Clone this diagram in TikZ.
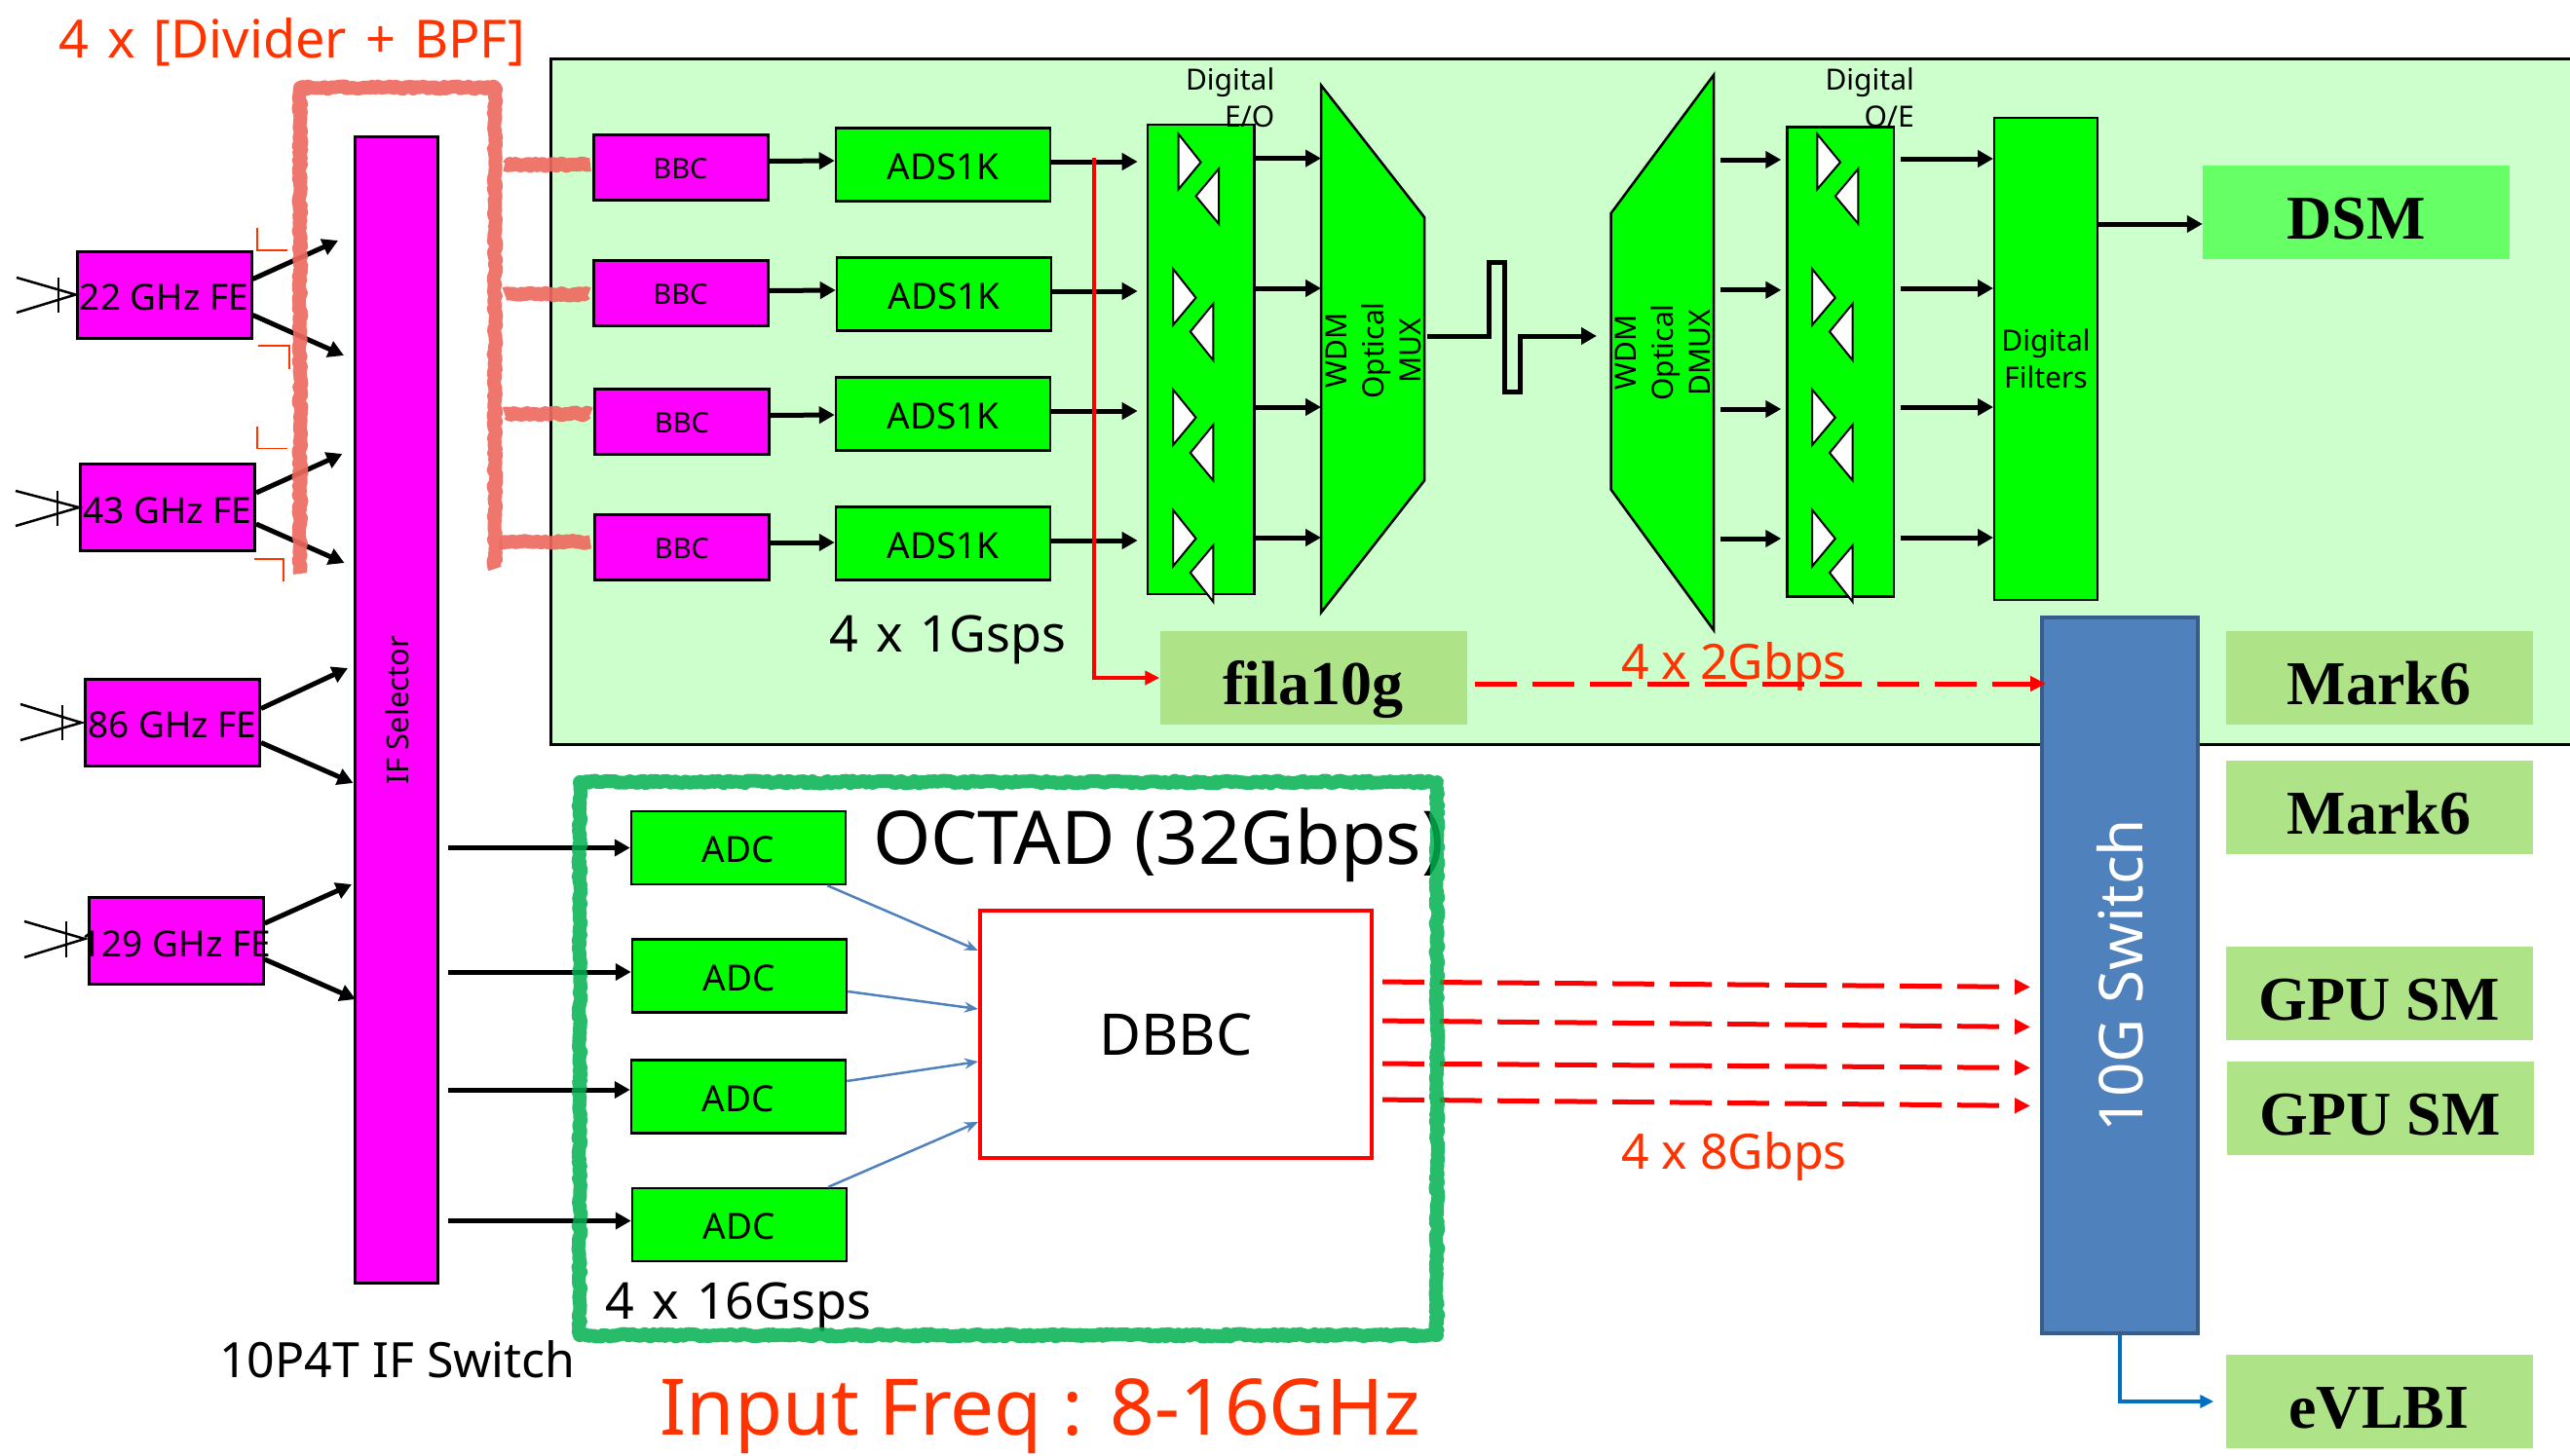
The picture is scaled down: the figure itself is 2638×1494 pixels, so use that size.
\documentclass[tikz,border=0pt]{standalone}
\usepackage{fontspec}
\setmainfont{Noto Sans}
\newfontfamily\boxserif{Liberation Serif}
\usetikzlibrary{arrows.meta,decorations.pathmorphing}
\definecolor{panelgreen}{HTML}{CCFFCC}
\definecolor{boxgreen}{HTML}{00FF00}
\definecolor{paleleaf}{HTML}{AEE387}
\definecolor{dsmgreen}{HTML}{66FF66}
\definecolor{magentabox}{HTML}{FF00FF}
\definecolor{switchblue}{HTML}{4F81BD}
\definecolor{switchedge}{HTML}{385D8A}
\definecolor{linkblue}{HTML}{0070C0}
\definecolor{notered}{HTML}{FF3300}
\definecolor{bpfpink}{HTML}{EE6A5F}
\definecolor{octadgreen}{HTML}{00B050}
\tikzset{
    magbox/.style={draw,line width=3pt,fill=magentabox,inner sep=0pt},
    febox/.style={magbox,font=\fontsize{37}{44}\selectfont,text height=32pt,text depth=0pt,minimum width=179pt,minimum height=89pt},
    bbcbox/.style={magbox,font=\fontsize{29}{34}\selectfont,text height=23pt,text depth=0pt,minimum width=179pt,minimum height=67pt},
    grnbox/.style={draw,line width=2.5pt,fill=boxgreen,inner sep=0pt},
    convbox/.style={grnbox,font=\fontsize{37}{44}\selectfont,text height=30pt,text depth=0pt,minimum width=220pt,minimum height=75pt},
    leafbox/.style={fill=paleleaf,inner sep=0pt,font=\fontsize{64}{70}\selectfont\boxserif\bfseries,text height=55pt,text depth=0pt,minimum width=315pt,minimum height=96pt},
    smalltxt/.style={inner sep=0pt,font=\fontsize{30}{38}\selectfont},
    sigarrow/.style={line width=5pt,-{Triangle[length=16pt,width=17pt]}},
    thinarrow/.style={line width=2.5pt,draw=switchblue,-{Stealth[length=14pt,width=11pt]}},
    reddash/.style={line width=5pt,draw=red,dash pattern=on 43pt off 16pt,-{Triangle[length=16pt,width=15pt]}},
    redtxt/.style={inner sep=0pt,text=notered},
    feedline/.style={line width=2.5pt},
    ampwedge/.style={draw,line width=2pt,fill=white,line join=miter},
    cornermark/.style={draw=notered,line width=1.5pt},
    rough/.style={line width=14pt,line join=round,decorate,decoration={random steps,segment length=3pt,amplitude=1.5pt}}
}
\begin{document}
\begin{tikzpicture}[x=1pt,y=-1pt]
    \useasboundingbox (0,0) rectangle (2638,1494);
    \pgfmathsetseed{7}
    % panel
    \draw[line width=3pt,fill=panelgreen] (565,60) rectangle (2650,764);

    \node[febox] (fe22) at (168.5,302.5) {\makebox[0pt]{22 GHz FE}};
    \node[febox] (fe43) at (172,521) {\makebox[0pt]{43 GHz FE}};
    \node[febox] (fe86) at (177,741.5) {\makebox[0pt]{86 GHz FE}};
    \node[febox] (fe129) at (180.7,966) {\makebox[0pt]{129 GHz FE}};
    \node[magbox,minimum width=85pt,minimum height=1177pt] (ifsel) at (407,728.5) {};
    \node[rotate=90,inner sep=0pt,font=\fontsize{31}{36}\selectfont] (ifseltxt) at (408,729) {IF Selector};

    \node[bbcbox] (bbc1) at (698.5,171.5) {BBC};
    \node[bbcbox] (bbc2) at (698.5,300.5) {BBC};
    \node[bbcbox] (bbc3) at (700,432.5) {BBC};
    \node[bbcbox] (bbc4) at (700,562) {BBC};
    \node[convbox] (ads1) at (968,169) {ADS1K};
    \node[convbox] (ads2) at (969,302) {ADS1K};
    \node[convbox] (ads3) at (968,425) {ADS1K};
    \node[convbox] (ads4) at (968,558) {ADS1K};

    \node[grnbox,minimum width=109.5pt,minimum height=482pt] (eo) at (1232.7,369) {};
    \node[grnbox,minimum width=109.5pt,minimum height=482pt] (oe) at (1889.3,371.5) {};
    \node[grnbox,smalltxt,align=center,minimum width=106pt,minimum height=495pt] (filt) at (2100,368.5) {Digital\\Filters};
    \node[smalltxt,align=right,anchor=north east] (eotxt) at (1308.5,69) {Digital\\E/O};
    \node[smalltxt,align=right,anchor=north east] (oetxt) at (1965,69) {Digital\\O/E};

    % wedges
    \draw[ampwedge] (1209.7,137.7) -- (1232.6,166.6) -- (1209.7,194.3) -- cycle;
    \draw[ampwedge] (1251,173.3) -- (1227.5,201.4) -- (1251,229.8) -- cycle;
    \draw[ampwedge] (1204,276) -- (1227.5,305.7) -- (1204,333.8) -- cycle;
    \draw[ampwedge] (1245.4,311.7) -- (1221.8,340.5) -- (1245.4,370) -- cycle;
    \draw[ampwedge] (1204,399.8) -- (1227.5,428.7) -- (1204,457) -- cycle;
    \draw[ampwedge] (1245.4,436) -- (1221.8,465) -- (1245.4,493.5) -- cycle;
    \draw[ampwedge] (1204,523.5) -- (1227.5,553) -- (1204,581.6) -- cycle;
    \draw[ampwedge] (1245.4,560) -- (1221.8,588) -- (1245.4,618) -- cycle;
    \draw[ampwedge] (1865.3,137.7) -- (1889,166.6) -- (1865.3,194.3) -- cycle;
    \draw[ampwedge] (1907.4,173.3) -- (1883.8,201.4) -- (1907.4,229.8) -- cycle;
    \draw[ampwedge] (1860,276) -- (1883.8,305.7) -- (1860,333.8) -- cycle;
    \draw[ampwedge] (1901.7,311.7) -- (1878,340.5) -- (1901.7,370) -- cycle;
    \draw[ampwedge] (1860,399.8) -- (1883.8,428.7) -- (1860,457) -- cycle;
    \draw[ampwedge] (1901.7,436) -- (1878,465) -- (1901.7,493.5) -- cycle;
    \draw[ampwedge] (1860,523.5) -- (1883.8,553) -- (1860,581.6) -- cycle;
    \draw[ampwedge] (1901.7,560) -- (1878,588) -- (1901.7,618) -- cycle;

    % mux and demux
    \draw[line width=2.5pt,fill=boxgreen] (1356,87.5) -- (1462,223) -- (1462,493.5) -- (1356,629) -- cycle;
    \draw[line width=2.5pt,fill=boxgreen] (1759,77) -- (1653.6,219) -- (1653.6,502.6) -- (1759,647) -- cycle;
    \node[smalltxt,rotate=90,align=center] (muxtxt) at (1410,360) {WDM\\Optical\\MUX};
    \node[smalltxt,rotate=90,align=center] (dmuxtxt) at (1707,362) {WDM\\Optical\\DMUX};

    \node[leafbox,fill=dsmgreen] (dsm) at (2418.5,218) {DSM};
    \node[leafbox] (fila) at (1348,696) {fila10g};
    \node[leafbox] (mark1) at (2442,696) {Mark6};
    \node[leafbox] (mark2) at (2442,829) {Mark6};
    \node[leafbox] (gpu1) at (2442,1020) {GPU SM};
    \node[leafbox] (gpu2) at (2443,1138) {GPU SM};
    \node[leafbox] (evlbi) at (2442,1439) {eVLBI};
    \node[draw=switchedge,line width=4pt,fill=switchblue,text=white,rotate=90,inner sep=0pt,font=\fontsize{62}{70}\selectfont,minimum width=735pt,minimum height=160pt] (switch) at (2176,1001.5) {10G Switch};

    \node[convbox] (adc1) at (758,870.5) {ADC};
    \node[convbox] (adc2) at (759,1002) {ADC};
    \node[convbox] (adc3) at (758,1126) {ADC};
    \node[convbox] (adc4) at (759,1257.5) {ADC};
    \node[draw=red,line width=4pt,fill=white,inner sep=0pt,font=\fontsize{59}{66}\selectfont,minimum width=402pt,minimum height=254pt] (dbbc) at (1207,1062) {DBBC};

    % labels
    \node[redtxt,font=\fontsize{54}{60}\selectfont] (bpftxt) at (300,43) {\spaceskip=19pt 4 x [Divider + BPF]};
    \node[inner sep=0pt,font=\fontsize{52}{58}\selectfont] (gspstxt) at (973,657) {\spaceskip=18pt 4 x 1Gsps};
    \node[inner sep=0pt,font=\fontsize{52}{58}\selectfont] (adctxt) at (758,1342) {\spaceskip=18pt 4 x 16Gsps};
    \node[inner sep=0pt,font=\fontsize{50}{56}\selectfont] (swtxt) at (408,1396) {10P4T IF Switch};
    \node[inner sep=0pt,font=\fontsize{76}{84}\selectfont] (octadtxt) at (1189,868) {OCTAD (32Gbps)};
    \node[redtxt,font=\fontsize{80}{88}\selectfont] (freqtxt) at (1068,1454) {Input Freq : 8-16GHz};
    \node[redtxt,font=\fontsize{50}{56}\selectfont] (twotxt) at (1780,684) {4 x 2Gbps};
    \node[redtxt,font=\fontsize{50}{56}\selectfont] (eighttxt) at (1780,1187) {4 x 8Gbps};

    % feeds
    \draw[feedline] (17,285) -- (fe22.west) -- (17,321);
    \draw[feedline] (60,285) -- (60,321);
    \draw[feedline] (16,504) -- (fe43.west) -- (16,540);
    \draw[feedline] (59,504) -- (59,540);
    \draw[feedline] (21,723) -- (83.5,742) -- (21,760);
    \draw[feedline] (64,724) -- (64,760);
    \draw[feedline] (25,946) -- (87,964) -- (25,983);
    \draw[feedline] (68,946) -- (68,983);

    % front ends to selector
    \coordinate (sel22a) at (347,247);
    \coordinate (sel22b) at (353,365);
    \coordinate (sel43a) at (351.4,466);
    \coordinate (sel43b) at (353.5,578);
    \coordinate (sel86a) at (357,686);
    \coordinate (sel86b) at (362.5,804);
    \coordinate (sel129a) at (361,908);
    \coordinate (sel129b) at (365,1026);
    \draw[sigarrow] ([yshift=16pt]fe22.east) -- (sel22a);
    \draw[sigarrow] ([yshift=-21pt]fe22.east) -- (sel22b);
    \draw[sigarrow] ([yshift=15pt]fe43.east) -- (sel43a);
    \draw[sigarrow] ([yshift=-17pt]fe43.east) -- (sel43b);
    \draw[sigarrow] ([yshift=14pt]fe86.east) -- (sel86a);
    \draw[sigarrow] ([yshift=-21pt]fe86.east) -- (sel86b);
    \draw[sigarrow] ([yshift=18pt]fe129.east) -- (sel129a);
    \draw[sigarrow] ([yshift=-19pt]fe129.east) -- (sel129b);

    % corner marks
    \draw[cornermark] (264,234) -- (264,257) -- (295,257);
    \draw[cornermark] (265,355) -- (297,355) -- (297,379);
    \draw[cornermark] (264,437.5) -- (264,460.5) -- (295,460.5);
    \draw[cornermark] (261,574) -- (291,574) -- (291,597);

    % upper chain
    \draw[sigarrow] ([yshift=6pt]bbc1.east) -- ([yshift=4pt]ads1.west);
    \draw[sigarrow] ([yshift=2pt]bbc2.east) -- ([yshift=4pt]ads2.west);
    \draw[sigarrow] ([yshift=6pt]bbc3.east) -- ([yshift=-1pt]ads3.west);
    \draw[sigarrow] ([yshift=5pt]bbc4.east) -- ([yshift=1pt]ads4.west);
    \draw[sigarrow,shorten >=9pt] ([yshift=3pt]ads1.east) -- ([yshift=3pt]ads1.east -| eo.west);
    \draw[sigarrow,shorten >=9pt] ([yshift=3pt]ads2.east) -- ([yshift=3pt]ads2.east -| eo.west);
    \draw[sigarrow,shorten >=9pt] ([yshift=3pt]ads3.east) -- ([yshift=3pt]ads3.east -| eo.west);
    \draw[sigarrow,shorten >=9pt] ([yshift=3pt]ads4.east) -- ([yshift=3pt]ads4.east -| eo.west);
    \coordinate (muxin1) at (1356,162.6);
    \coordinate (muxin2) at (1356,296);
    \coordinate (muxin3) at (1356,418);
    \coordinate (muxin4) at (1356,552);
    \draw[sigarrow] (muxin1 -| eo.east) -- (muxin1);
    \draw[sigarrow] (muxin2 -| eo.east) -- (muxin2);
    \draw[sigarrow] (muxin3 -| eo.east) -- (muxin3);
    \draw[sigarrow] (muxin4 -| eo.east) -- (muxin4);
    \coordinate (muxout) at (1465,345);
    \coordinate (dmuxin) at (1639,345);
    \draw[sigarrow] (muxout) -- (1528.6,345) -- (1528.6,269) -- (1544.5,269) -- (1544.5,402) -- (1560.5,402) -- (1560.5,345) -- (dmuxin);
    \coordinate (dmuxout1) at (1766,164);
    \coordinate (dmuxout2) at (1766,297.8);
    \coordinate (dmuxout3) at (1766,420);
    \coordinate (dmuxout4) at (1766,553);
    \draw[sigarrow,shorten >=5pt] (dmuxout1) -- (dmuxout1 -| oe.west);
    \draw[sigarrow,shorten >=5pt] (dmuxout2) -- (dmuxout2 -| oe.west);
    \draw[sigarrow,shorten >=5pt] (dmuxout3) -- (dmuxout3 -| oe.west);
    \draw[sigarrow,shorten >=5pt] (dmuxout4) -- (dmuxout4 -| oe.west);
    \coordinate (filin1) at (2046,163);
    \coordinate (filin2) at (2046,296);
    \coordinate (filin3) at (2046,418);
    \coordinate (filin4) at (2046,552);
    \draw[sigarrow,shorten <=6pt] (filin1 -| oe.east) -- (filin1);
    \draw[sigarrow,shorten <=6pt] (filin2 -| oe.east) -- (filin2);
    \draw[sigarrow,shorten <=6pt] (filin3 -| oe.east) -- (filin3);
    \draw[sigarrow,shorten <=6pt] (filin4 -| oe.east) -- (filin4);
    \draw[sigarrow] ([yshift=-12pt]dsm.west -| filt.east) -- ([yshift=-12pt]dsm.west);

    % monitor tap
    \coordinate (tap) at (1123,162);
    \draw[line width=4pt,draw=red,-{Triangle[length=15pt,width=14pt]}] (tap) |- (fila.west);
    \draw[reddash,shorten <=8pt,shorten >=-6pt] ([yshift=-6pt]fila.east) -- ([yshift=-6pt]fila.east -| switch.north);

    % lower chain
    \draw[sigarrow,shorten <=9pt] (adc1.west -| ifsel.east) -- (adc1.west);
    \draw[sigarrow,shorten <=9pt] ([yshift=4pt]adc2.west -| ifsel.east) -- ([yshift=4pt]adc2.west);
    \draw[sigarrow,shorten <=9pt] ([yshift=7pt]adc3.west -| ifsel.east) -- ([yshift=7pt]adc3.west);
    \draw[sigarrow,shorten <=9pt] ([yshift=4pt]adc4.west -| ifsel.east) -- ([yshift=4pt]adc4.west);
    \draw[thinarrow] ([xshift=-20pt]adc1.south east) -- ([yshift=86pt]dbbc.west);
    \draw[thinarrow] ([yshift=-16pt]adc2.east) -- ([yshift=26pt]dbbc.west);
    \draw[thinarrow] ([yshift=16pt]adc3.east) -- ([yshift=-28pt]dbbc.west);
    \draw[thinarrow] ([xshift=-20pt]adc4.north east) -- ([yshift=-90pt]dbbc.west);
    \draw[reddash,shorten <=9pt,shorten >=10pt] ([yshift=54pt]dbbc.east) -- ([yshift=-12pt]switch.north);
    \draw[reddash,shorten <=9pt,shorten >=10pt] ([yshift=14pt]dbbc.east) -- ([yshift=-53pt]switch.north);
    \draw[reddash,shorten <=9pt,shorten >=10pt] ([yshift=-30pt]dbbc.east) -- ([yshift=-95pt]switch.north);
    \draw[reddash,shorten <=9pt,shorten >=10pt] ([yshift=-67pt]dbbc.east) -- ([yshift=-134pt]switch.north);
    \draw[line width=3.5pt,draw=linkblue,shorten >=12pt,-{Triangle[length=14pt,width=13pt]}] (switch.west) |- (evlbi.west);

    % rough outlines
    \draw[rough,draw=bpfpink,opacity=.92] (308,589) -- (308,90) -- (508,90) -- (508,584);
    \draw[rough,draw=bpfpink,opacity=.92] (518,169) -- (606,169);
    \draw[rough,draw=bpfpink,opacity=.92] (518,302) -- (604,302);
    \draw[rough,draw=bpfpink,opacity=.92] (518,425) -- (606,425);
    \draw[rough,draw=bpfpink,opacity=.92] (513,556.5) -- (606,556.5);
    \draw[rough,draw=octadgreen,opacity=.85] (595,803) rectangle (1475,1371);
\end{tikzpicture}
\end{document}
